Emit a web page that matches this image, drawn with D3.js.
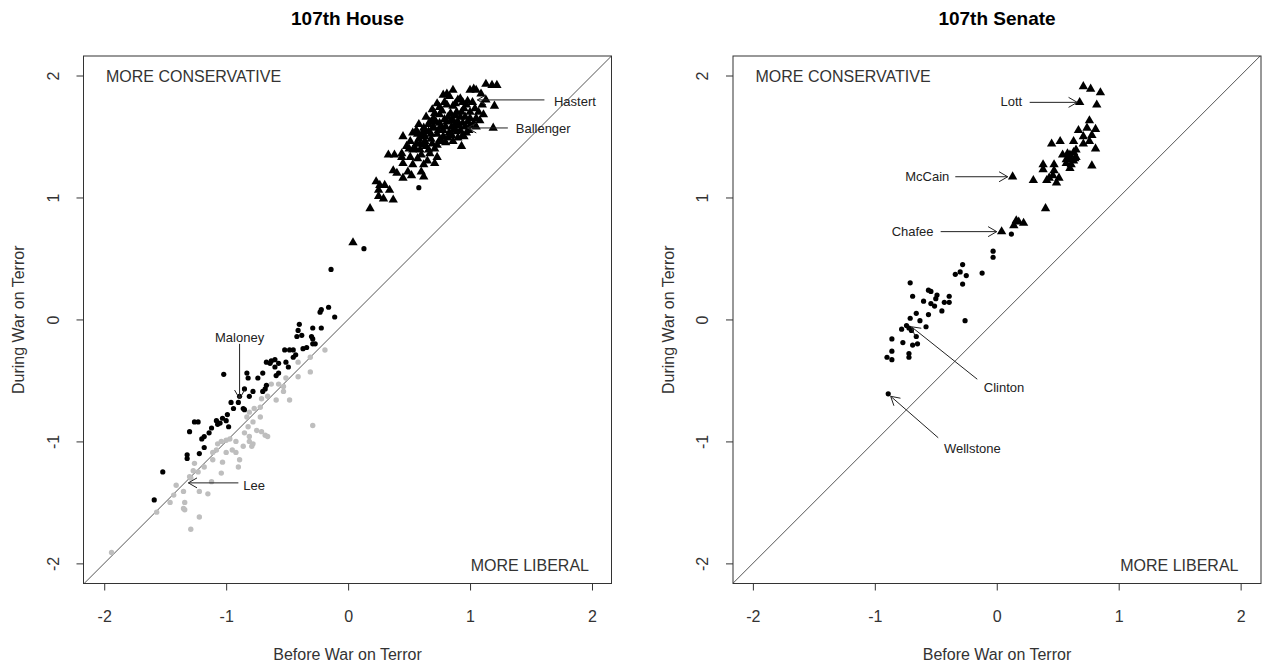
<!DOCTYPE html>
<html><head><meta charset="utf-8">
<script src="https://cdn.jsdelivr.net/npm/d3@7"></script>
<style>
body{margin:0;background:#fff}
svg{display:block}
text{font-family:"Liberation Sans",Arial,sans-serif}
</style>
</head><body>
<svg id="c" width="1263" height="666"></svg>
<script>
// ---------- DATA (Before War on Terror, During War on Terror) ----------
const tickValues = [-2, -1, 0, 1, 2];
const tickLabels = ["-2", "-1", "0", "1", "2"];
const titles = ["107th House", "107th Senate"];
const xAxisLabel = "Before War on Terror";
const yAxisLabel = "During War on Terror";
const cornerTop = "MORE CONSERVATIVE";
const cornerBottom = "MORE LIBERAL";

const houseRep = [
[1.13,1.93],[1.18,1.92],[1.22,1.92],[1.03,1.89],[1.00,1.88],[1.05,1.88],[1.09,1.85],[0.86,1.88],[0.81,1.85],[0.78,1.84],
[0.83,1.83],[0.73,1.77],[0.81,1.76],[0.75,1.74],[0.92,1.81],[0.94,1.78],[0.97,1.76],[1.20,1.75],[1.04,1.73],[1.11,1.68],
[1.08,1.63],[1.00,1.65],[0.89,1.70],[0.92,1.66],[0.70,1.65],[0.67,1.62],[0.75,1.61],[0.81,1.62],[0.86,1.63],[0.94,1.61],
[1.00,1.59],[1.05,1.58],[1.19,1.57],[0.62,1.57],[0.56,1.55],[0.53,1.53],[0.64,1.54],[0.70,1.57],[0.78,1.55],[0.83,1.53],
[0.89,1.54],[0.94,1.51],[0.86,1.46],[0.93,1.42],[0.45,1.50],[0.60,1.50],[0.51,1.46],[0.56,1.44],[0.63,1.46],[0.73,1.43],
[0.71,1.40],[0.75,1.47],[0.48,1.42],[0.53,1.39],[0.59,1.39],[0.64,1.42],[0.33,1.35],[0.38,1.35],[0.44,1.33],[0.51,1.33],
[0.57,1.32],[0.73,1.33],[0.71,1.28],[0.45,1.28],[0.53,1.27],[0.62,1.27],[0.37,1.22],[0.40,1.20],[0.49,1.21],[0.60,1.21],
[0.62,1.17],[0.45,1.16],[0.52,1.18],[0.23,1.13],[0.26,1.10],[0.30,1.10],[0.34,1.06],[0.25,1.06],[0.37,0.98],[0.29,0.99],
[0.25,1.01],[0.18,0.91],[0.04,0.63],
[0.75,1.68],[0.82,1.66],[0.88,1.60],[0.70,1.58],[0.66,1.54],[0.78,1.50],[0.85,1.58],[0.92,1.55],[0.96,1.66],[0.93,1.70],
[1.00,1.70],[0.86,1.75],[0.73,1.52],[0.62,1.43],[0.68,1.48],[0.80,1.45],[0.55,1.40],[0.60,1.35],[0.67,1.36],[1.05,1.65],
[1.02,1.78],[0.90,1.80],[0.76,1.58],[0.83,1.53],[0.95,1.50],[0.58,1.48],[0.50,1.40],[0.44,1.36],[0.65,1.30],[0.72,1.62],
[0.84,1.69],[0.98,1.62],[1.10,1.76],[1.13,1.80],[0.69,1.72],[0.64,1.66],[0.58,1.60],
[0.66,1.60],[0.71,1.69],[0.77,1.71],[0.79,1.64],[0.85,1.64],[0.90,1.62],[0.88,1.67],[0.96,1.58],[0.99,1.55],[0.87,1.56],
[0.80,1.58],[0.74,1.55],[0.68,1.52],[0.63,1.50],[0.77,1.46],[0.82,1.49],[0.90,1.49],[0.97,1.53],[1.03,1.61],[1.07,1.70],
[0.95,1.73],[0.98,1.79],[0.88,1.77],[0.79,1.78],[0.71,1.62],[0.61,1.53],[0.57,1.52],[0.69,1.44],[0.66,1.39],[0.59,1.44],
[0.85,1.51],[0.91,1.59]
];

const houseDemBlack = [
[0.58,1.08],[0.13,0.58],[-0.14,0.41],[-0.22,0.08],[-0.16,0.10],[-0.11,0.02],[-0.23,0.06],
[-0.40,-0.04],[-0.29,-0.07],[-0.22,-0.07],[-0.42,-0.14],[-0.38,-0.13],[-0.29,-0.16],[-0.41,-0.09],[-0.30,-0.14],[-0.27,-0.20],
[-0.52,-0.25],[-0.45,-0.25],[-0.34,-0.23],[-0.29,-0.20],[-0.43,-0.29],[-0.48,-0.25],[-0.37,-0.24],[-0.45,-0.31],
[-0.67,-0.35],[-0.63,-0.34],[-0.57,-0.36],[-0.51,-0.35],[-0.60,-0.33],[-0.64,-0.36],[-0.49,-0.39],[-0.60,-0.39],
[-0.57,-0.44],[-0.70,-0.44],[-0.74,-0.48],[-0.83,-0.44],[-0.82,-0.48],[-1.02,-0.45],[-0.59,-0.46],
[-0.67,-0.54],[-0.68,-0.57],[-0.70,-0.59],[-0.78,-0.59],[-0.85,-0.57],[-0.89,-0.63],[-0.81,-0.63],
[-0.96,-0.68],[-0.94,-0.73],[-0.90,-0.68],[-0.86,-0.73],[-0.85,-0.74],
[-0.99,-0.78],[-1.03,-0.81],[-1.08,-0.83],[-1.07,-0.86],[-0.98,-0.88],[-1.00,-0.83],[-1.05,-0.85],
[-1.12,-0.89],[-1.14,-0.93],[-1.26,-0.84],[-1.23,-0.84],[-1.30,-0.92],[-1.18,-0.96],[-1.20,-0.98],
[-1.18,-1.05],[-1.32,-1.11],[-1.32,-1.14],[-1.22,-1.10],[-1.52,-1.25],[-1.59,-1.48]
];

const houseDemGray = [
[-0.19,-0.25],[-0.31,-0.31],[-0.41,-0.35],[-0.31,-0.43],[-0.41,-0.47],[-0.51,-0.48],[-0.57,-0.53],[-0.53,-0.59],[-0.48,-0.66],[-0.59,-0.66],
[-0.66,-0.63],[-0.71,-0.65],[-0.72,-0.72],[-0.77,-0.73],[-0.81,-0.76],[-0.83,-0.80],[-0.72,-0.80],[-0.78,-0.84],[-0.82,-0.88],[-0.75,-0.91],
[-0.85,-0.93],[-0.81,-0.96],[-0.68,-0.95],[-0.66,-0.96],[-0.81,-1.00],[-0.86,-1.04],[-0.79,-1.04],[-0.92,-1.00],[-0.97,-0.98],[-1.04,-1.00],
[-1.08,-1.07],[-1.00,-1.09],[-0.92,-1.09],[-1.11,-1.15],[-1.03,-1.17],[-1.18,-1.21],[-1.26,-1.18],[-1.23,-1.25],[-1.30,-1.29],[-0.89,-1.15],
[-0.90,-1.21],[-1.04,-1.26],[-0.29,-0.87],[-1.12,-1.33],[-1.22,-1.41],[-1.15,-1.43],[-1.41,-1.36],[-1.35,-1.41],[-1.46,-1.50],[-1.34,-1.50],
[-1.35,-1.55],[-1.22,-1.62],[-1.57,-1.58],[-1.29,-1.72],[-1.94,-1.91],[-0.95,-1.07],[-1.00,-0.99],[-0.71,-0.92],[-1.07,-1.02],[-0.78,-1.02],
[-1.11,-1.09],[-0.53,-0.55],[-0.63,-0.53],[-1.27,-1.24],[-1.29,-1.30],[-1.43,-1.44],[-1.34,-1.56]
];

const senateRep = [
[0.71,1.91],[0.77,1.89],[0.85,1.86],[0.68,1.78],[0.82,1.76],[0.76,1.63],[0.67,1.55],[0.74,1.57],[0.81,1.56],[0.71,1.50],
[0.78,1.51],[0.45,1.44],[0.52,1.46],[0.63,1.46],[0.71,1.44],[0.76,1.46],[0.81,1.40],[0.54,1.35],[0.58,1.36],[0.63,1.37],
[0.65,1.39],[0.60,1.32],[0.57,1.31],[0.64,1.32],[0.61,1.27],[0.60,1.24],[0.38,1.27],[0.47,1.27],[0.38,1.23],[0.47,1.22],
[0.78,1.26],[0.30,1.14],[0.43,1.16],[0.46,1.18],[0.51,1.16],[0.49,1.12],[0.41,1.14],[0.13,1.17],[0.40,0.91],[0.16,0.81],
[0.18,0.80],[0.22,0.79],[0.14,0.77],[0.04,0.72],[0.60,1.35],[0.63,1.30],[0.57,1.28],[0.65,1.33]
];

const senateDem = [
[0.12,0.70],[-0.03,0.56],[-0.03,0.51],[-0.28,0.45],[-0.30,0.39],[-0.34,0.37],[-0.25,0.36],[-0.28,0.29],[-0.12,0.38],[-0.71,0.30],
[-0.56,0.24],[-0.54,0.23],[-0.49,0.20],[-0.50,0.17],[-0.39,0.19],[-0.39,0.14],[-0.43,0.14],[-0.69,0.19],[-0.60,0.15],[-0.54,0.13],
[-0.51,0.11],[-0.45,0.07],[-0.66,0.05],[-0.63,-0.01],[-0.71,0.01],[-0.56,0.04],[-0.26,-0.01],[-0.74,-0.05],[-0.72,-0.07],[-0.78,-0.08],
[-0.70,-0.09],[-0.58,-0.06],[-0.66,-0.14],[-0.86,-0.16],[-0.77,-0.19],[-0.69,-0.21],[-0.65,-0.20],[-0.86,-0.26],[-0.90,-0.31],[-0.86,-0.33],
[-0.72,-0.28],[-0.72,-0.31],[-0.89,-0.61]
];

const houseLabels = [
  {name:"Hastert",   tx: 1.86, ty: 1.79, from:[1.61, 1.80], to:[1.06, 1.80]},
  {name:"Ballenger", tx: 1.60, ty: 1.57, from:[1.31, 1.57], to:[0.98, 1.57]},
  {name:"Maloney",   tx:-0.89, ty:-0.15, from:[-0.89,-0.20], to:[-0.89,-0.65]},
  {name:"Lee",       tx:-0.77, ty:-1.36, from:[-0.90,-1.34], to:[-1.31,-1.34]}
];
const senateLabels = [
  {name:"Lott",      tx: 0.12, ty: 1.79, from:[0.27, 1.78], to:[0.66, 1.78]},
  {name:"McCain",    tx:-0.57, ty: 1.17, from:[-0.34, 1.17], to:[0.09, 1.17]},
  {name:"Chafee",    tx:-0.69, ty: 0.72, from:[-0.46, 0.72], to:[0.00, 0.72]},
  {name:"Clinton",   tx: 0.06, ty:-0.56, from:[-0.16,-0.49], to:[-0.70,-0.06]},
  {name:"Wellstone", tx:-0.20, ty:-1.06, from:[-0.48,-0.97], to:[-0.87,-0.63]}
];

// ---------- DRAWING ----------
const svg = d3.select("#c");
const panels = [
  {title:titles[0], x0:83.5, x1:611.5, xdom:[-2.17,2.16], rep:houseRep, dem:houseDemBlack, gray:houseDemGray, labels:houseLabels},
  {title:titles[1], x0:733,  x1:1261,  xdom:[-2.163,2.167], rep:senateRep, dem:senateDem, gray:[], labels:senateLabels}
];
const yTop = 56, yBot = 583.5, ydom = [-2.165, 2.16];
const ink = "#222";
const fmt = v => tickLabels[tickValues.indexOf(v)];

panels.forEach((p, i) => {
  const x = d3.scaleLinear().domain(p.xdom).range([p.x0, p.x1]);
  const y = d3.scaleLinear().domain(ydom).range([yBot, yTop]);
  const g = svg.append("g");
  const clipId = "clip" + i;
  svg.append("clipPath").attr("id", clipId).append("rect")
    .attr("x", p.x0).attr("y", yTop).attr("width", p.x1 - p.x0).attr("height", yBot - yTop);

  // title
  g.append("text").attr("x", (p.x0 + p.x1) / 2).attr("y", 25).attr("text-anchor", "middle")
    .attr("font-size", 19).attr("font-weight", "bold").attr("fill", "#000").text(p.title);

  // 45-degree line
  const lo = Math.max(p.xdom[0], ydom[0]) - 0.1, hi = Math.min(p.xdom[1], ydom[1]) + 0.1;
  g.append("line").attr("clip-path", `url(#${clipId})`)
    .attr("x1", x(lo)).attr("y1", y(lo)).attr("x2", x(hi)).attr("y2", y(hi))
    .attr("stroke", "#555").attr("stroke-width", 1);

  // points
  const pts = g.append("g");
  pts.selectAll("circle.gray").data(p.gray).join("circle").attr("class", "gray")
    .attr("cx", d => x(d[0])).attr("cy", d => y(d[1])).attr("r", 2.7).attr("fill", "#bebebe");
  pts.selectAll("circle.dem").data(p.dem).join("circle").attr("class", "dem")
    .attr("cx", d => x(d[0])).attr("cy", d => y(d[1])).attr("r", 2.6).attr("fill", "#000");
  const tri = d3.symbol().type(d3.symbolTriangle).size(38);
  pts.selectAll("path.rep").data(p.rep).join("path").attr("class", "rep")
    .attr("d", tri).attr("transform", d => `translate(${x(d[0])},${y(d[1])})`).attr("fill", "#000");

  // labels + arrows
  p.labels.forEach(l => {
    const x1 = x(l.from[0]), y1 = y(l.from[1]), x2 = x(l.to[0]), y2 = y(l.to[1]);
    g.append("line").attr("x1", x1).attr("y1", y1).attr("x2", x2).attr("y2", y2)
      .attr("stroke", ink).attr("stroke-width", 1);
    const ang = Math.atan2(y2 - y1, x2 - x1), len = 10, spread = Math.PI / 6;
    [ang + Math.PI - spread, ang + Math.PI + spread].forEach(a => {
      g.append("line").attr("x1", x2).attr("y1", y2)
        .attr("x2", x2 + len * Math.cos(a)).attr("y2", y2 + len * Math.sin(a))
        .attr("stroke", ink).attr("stroke-width", 1);
    });
    g.append("text").attr("x", x(l.tx)).attr("y", y(l.ty)).attr("dy", "0.35em")
      .attr("text-anchor", "middle").attr("font-size", 13).attr("fill", ink).text(l.name);
  });

  // box
  g.append("rect").attr("x", p.x0).attr("y", yTop).attr("width", p.x1 - p.x0).attr("height", yBot - yTop)
    .attr("fill", "none").attr("stroke", "#333").attr("stroke-width", 1);

  // axes
  const ax = g.append("g").attr("transform", `translate(0,${yBot})`)
    .call(d3.axisBottom(x).tickValues(tickValues).tickFormat(fmt).tickSize(7).tickPadding(20));
  ax.select(".domain").remove();
  ax.selectAll("line").attr("stroke", "#333");
  ax.selectAll("text").attr("font-size", 16).attr("fill", "#333").attr("font-family", '"Liberation Sans",Arial,sans-serif');

  const ay = g.append("g").attr("transform", `translate(${p.x0},0)`)
    .call(d3.axisLeft(y).tickValues(tickValues).tickFormat(fmt).tickSize(7));
  ay.select(".domain").remove();
  ay.selectAll("line").attr("stroke", "#333");
  ay.selectAll("text").attr("font-size", 16).attr("fill", "#333").attr("font-family", '"Liberation Sans",Arial,sans-serif')
    .attr("transform", "rotate(-90)").attr("x", 0).attr("y", -25).attr("dy", 0).attr("text-anchor", "middle");

  // axis titles
  g.append("text").attr("x", (p.x0 + p.x1) / 2).attr("y", 660).attr("text-anchor", "middle")
    .attr("font-size", 16).attr("fill", "#333").text(xAxisLabel);
  g.append("text").attr("transform", `translate(${p.x0 - 59.5},${(yTop + yBot) / 2}) rotate(-90)`)
    .attr("text-anchor", "middle").attr("font-size", 16).attr("fill", "#333").text(yAxisLabel);

  // corner notes
  g.append("text").attr("x", p.x0 + 22.5).attr("y", 82).attr("font-size", 16).attr("fill", "#333").text(cornerTop);
  g.append("text").attr("x", p.x1 - 22.5).attr("y", 571).attr("text-anchor", "end").attr("font-size", 16).attr("fill", "#333").text(cornerBottom);
});
</script>
</body></html>
